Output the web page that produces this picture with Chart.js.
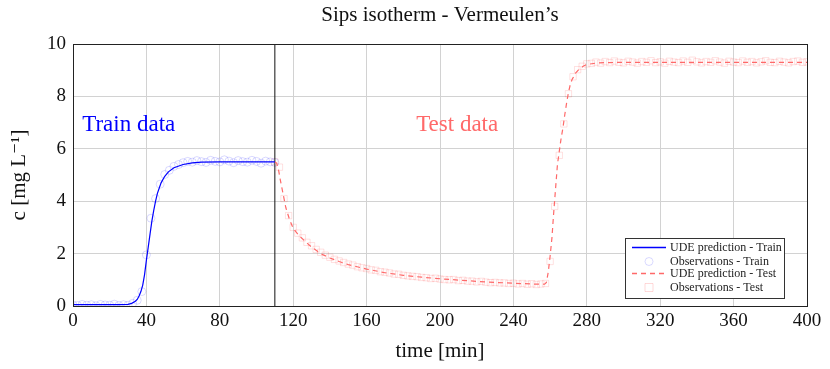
<!DOCTYPE html>
<html>
<head>
<meta charset="utf-8">
<script src="https://cdn.jsdelivr.net/npm/chart.js@4.4.1/dist/chart.umd.min.js"></script>
<style>
  html, body { margin: 0; padding: 0; background: #fff; }
  #wrap { width: 830px; height: 369px; position: relative; }
</style>
</head>
<body>
<div id="wrap"><canvas id="grafico"></canvas></div>
<script>
// Observações de treino (min, mg/L)
const trainTime = [0, 2.5, 5, 7.5, 10, 12.5, 15, 17.5, 20, 22.5, 25, 27.5, 30, 32.5, 35, 37.5, 40, 42.5, 45, 47.5,
  50, 52.5, 55, 57.5, 60, 62.5, 65, 67.5, 70, 72.5, 75, 77.5, 80, 82.5, 85, 87.5, 90, 92.5, 95, 97.5,
  100, 102.5, 105, 107.5, 110];
const trainObs = [0.04, 0.02, 0.06, 0.03, 0.05, 0.01, 0.06, 0.04, 0.03, 0.07, 0.02, 0.05, 0.03, 0.10, 0.22, 0.55, 1.95, 3.35, 4.10, 4.65,
  5.02, 5.18, 5.33, 5.40, 5.47, 5.52, 5.49, 5.55, 5.51, 5.48, 5.56, 5.52, 5.50, 5.58, 5.53, 5.47, 5.55, 5.51, 5.49, 5.56,
  5.52, 5.45, 5.53, 5.50, 5.48];

// Observações de teste
const testTime = [110, 112.5, 115, 117.5, 120, 122.5, 125, 127.5, 130, 132.5,
  135, 137.5, 140, 142.5, 145, 147.5, 150, 152.5, 155, 157.5,
  160, 162.5, 165, 167.5, 170, 172.5, 175, 177.5, 180, 182.5,
  185, 187.5, 190, 192.5, 195, 197.5, 200, 202.5, 205, 207.5,
  210, 212.5, 215, 217.5, 220, 222.5, 225, 227.5, 230, 232.5,
  235, 237.5, 240, 242.5, 245, 247.5, 250, 252.5, 255, 257.5,
  260, 262.5, 265, 267.5, 270, 272.5, 275, 277.5, 280, 282.5,
  285, 287.5, 290, 292.5, 295, 297.5, 300, 302.5, 305, 307.5,
  310, 312.5, 315, 317.5, 320, 322.5, 325, 327.5, 330, 332.5,
  335, 337.5, 340, 342.5, 345, 347.5, 350, 352.5, 355, 357.5,
  360, 362.5, 365, 367.5, 370, 372.5, 375, 377.5, 380, 382.5,
  385, 387.5, 390, 392.5, 395, 397.5, 400];
const testObs = [5.50, 5.30, 4.10, 3.45, 3.00, 2.78, 2.60, 2.43, 2.30, 2.16,
  2.05, 1.94, 1.86, 1.78, 1.72, 1.66, 1.60, 1.56, 1.50, 1.46,
  1.43, 1.38, 1.36, 1.31, 1.29, 1.26, 1.22, 1.21, 1.17, 1.15,
  1.13, 1.12, 1.09, 1.08, 1.05, 1.06, 1.03, 1.01, 1.00, 1.01,
  0.97, 0.98, 0.95, 0.95, 0.92, 0.94, 0.91, 0.89, 0.90, 0.88,
  0.88, 0.86, 0.87, 0.84, 0.86, 0.83, 0.85, 0.82, 0.84, 0.86,
  1.70, 3.80, 5.75, 6.95, 8.10, 8.75, 9.02, 9.15, 9.24, 9.26,
  9.31, 9.27, 9.33, 9.29, 9.35, 9.30, 9.28, 9.34, 9.31, 9.27,
  9.33, 9.30, 9.36, 9.29, 9.32, 9.27, 9.34, 9.31, 9.29, 9.35,
  9.30, 9.38, 9.32, 9.28, 9.33, 9.30, 9.36, 9.31, 9.27, 9.34,
  9.31, 9.29, 9.35, 9.30, 9.33, 9.28, 9.32, 9.36, 9.30, 9.29,
  9.34, 9.31, 9.28, 9.33, 9.35, 9.30, 9.32];

// Previsão UDE - treino
const predTrainTime = [0, 5, 10, 15, 20, 25, 30, 32, 34, 35, 36, 37, 38, 39, 40, 41, 42, 43, 44, 45,
  46, 48, 50, 52, 55, 60, 65, 70, 80, 90, 100, 110];
const predTrain = [0.05, 0.05, 0.05, 0.05, 0.05, 0.05, 0.06, 0.10, 0.18, 0.25, 0.38, 0.55, 0.80, 1.20, 1.75, 2.25, 2.75, 3.25, 3.65, 4.00,
  4.30, 4.70, 4.95, 5.12, 5.28, 5.40, 5.46, 5.49, 5.50, 5.50, 5.50, 5.50];

// Previsão UDE - teste
const predTestTime = [110, 111, 112, 113, 114, 115, 116, 118, 120, 123, 126, 130, 135, 140, 145, 150, 160, 170, 180, 190,
  200, 210, 220, 230, 240, 250, 257, 258, 259, 260, 261, 262, 263, 264, 265, 266, 267, 268, 269, 270,
  271, 272, 274, 276, 278, 280, 285, 290, 300, 320, 340, 360, 380, 400];
const predTest = [5.50, 5.45, 5.20, 4.80, 4.45, 4.10, 3.75, 3.30, 2.96, 2.70, 2.50, 2.25, 2.00, 1.83, 1.70, 1.58, 1.41, 1.27, 1.17, 1.10,
  1.04, 0.99, 0.94, 0.90, 0.87, 0.84, 0.83, 0.90, 1.30, 1.90, 2.60, 3.60, 4.50, 5.40, 5.90, 6.40, 6.80, 7.30, 7.75, 8.15,
  8.45, 8.65, 8.90, 9.05, 9.15, 9.22, 9.27, 9.29, 9.30, 9.30, 9.30, 9.30, 9.30, 9.30];

// Separação treino / teste
const splitTime = 110;

const xTicks = [0, 40, 80, 120, 160, 200, 240, 280, 320, 360, 400];
const yTicks = [0, 2, 4, 6, 8, 10];

const SERIF = "'Liberation Serif', 'DejaVu Serif', serif";
const AZUL = "rgb(0,0,255)";
const AZUL_CLARO = "rgba(0,0,255,0.15)";
const VERMELHO = "rgb(255,105,105)";
const VERMELHO_CLARO = "rgba(255,0,0,0.12)";

function pares(xs, ys) {
  return xs.map((x, i) => ({ x: x, y: ys[i] }));
}

// Título, moldura, textos e legenda desenhados por cima
const extras = {
  id: "extras",
  afterDraw(chart) {
    const ctx = chart.ctx;
    const a = chart.chartArea;
    const sx = chart.scales.x, sy = chart.scales.y;
    ctx.save();

    // moldura
    ctx.strokeStyle = "#222";
    ctx.lineWidth = 1;
    ctx.strokeRect(Math.round(a.left) + 0.5, Math.round(a.top) + 0.5, Math.round(a.right - a.left), Math.round(a.bottom - a.top));

    // título
    ctx.fillStyle = "#111";
    ctx.font = "21px " + SERIF;
    ctx.textAlign = "center";
    ctx.textBaseline = "middle";
    ctx.fillText("Sips isotherm - Vermeulen\u2019s", (a.left + a.right) / 2, 15);

    // rótulos
    ctx.font = "23px " + SERIF;
    ctx.textAlign = "left";
    ctx.fillStyle = AZUL;
    ctx.fillText("Train data", sx.getPixelForValue(5), sy.getPixelForValue(6.9));
    ctx.fillStyle = VERMELHO;
    ctx.fillText("Test data", sx.getPixelForValue(187), sy.getPixelForValue(6.9));

    // legenda
    const lx = 625, ly = 238, lw = 159, lh = 60;
    ctx.fillStyle = "#fff";
    ctx.fillRect(lx, ly, lw, lh);
    ctx.strokeStyle = "#333";
    ctx.strokeRect(lx + 0.5, ly + 0.5, lw, lh);
    const linhas = [
      { txt: "UDE prediction - Train", y: 247.5, tipo: "linha", cor: AZUL },
      { txt: "Observations - Train", y: 261.5, tipo: "circulo", cor: AZUL_CLARO },
      { txt: "UDE prediction - Test", y: 273.5, tipo: "tracejado", cor: VERMELHO },
      { txt: "Observations - Test", y: 287.5, tipo: "quadrado", cor: "rgba(255,0,0,0.15)" }
    ];
    ctx.font = "12px " + SERIF;
    ctx.textBaseline = "middle";
    linhas.forEach(l => {
      ctx.strokeStyle = l.cor;
      ctx.lineWidth = (l.tipo === "linha" || l.tipo === "tracejado") ? 1.4 : 1;
      ctx.beginPath();
      if (l.tipo === "linha" || l.tipo === "tracejado") {
        ctx.setLineDash(l.tipo === "tracejado" ? [5, 4] : []);
        ctx.moveTo(632, l.y);
        ctx.lineTo(666, l.y);
      } else if (l.tipo === "circulo") {
        ctx.setLineDash([]);
        ctx.arc(649, l.y, 4, 0, Math.PI * 2);
      } else {
        ctx.setLineDash([]);
        ctx.rect(645, l.y - 4, 8, 8);
      }
      ctx.stroke();
      ctx.setLineDash([]);
      ctx.fillStyle = "#222";
      ctx.fillText(l.txt, 670, l.y);
    });
    ctx.restore();
  }
};

const ctx = document.getElementById("grafico").getContext("2d");
const chart = new Chart(ctx, {
  type: "scatter",
  data: {
    datasets: [
      {
        label: "UDE prediction - Train",
        data: pares(predTrainTime, predTrain),
        showLine: true,
        borderColor: AZUL,
        borderWidth: 1.2,
        pointRadius: 0,
        tension: 0,
        order: 1
      },
      {
        label: "Observations - Train",
        data: pares(trainTime, trainObs),
        showLine: false,
        pointStyle: "circle",
        pointRadius: 4,
        pointBorderWidth: 1,
        pointBorderColor: AZUL_CLARO,
        pointBackgroundColor: "rgba(0,0,0,0)",
        order: 4
      },
      {
        label: "UDE prediction - Test",
        data: pares(predTestTime, predTest),
        showLine: true,
        borderColor: VERMELHO,
        borderWidth: 1.2,
        borderDash: [5, 4],
        pointRadius: 0,
        tension: 0,
        order: 2
      },
      {
        label: "Observations - Test",
        data: pares(testTime, testObs),
        showLine: false,
        pointStyle: "rect",
        pointRadius: 4.5,
        pointBorderWidth: 1,
        pointBorderColor: VERMELHO_CLARO,
        pointBackgroundColor: "rgba(0,0,0,0)",
        order: 5
      },
      {
        label: "split",
        data: [{ x: splitTime, y: yTicks[0] }, { x: splitTime, y: yTicks[yTicks.length - 1] }],
        showLine: true,
        borderColor: "#111",
        borderWidth: 1,
        pointRadius: 0,
        order: 3
      }
    ]
  },
  options: {
    responsive: true,
    maintainAspectRatio: false,
    animation: false,
    layout: { padding: { left: 0, right: 23, top: 44, bottom: 0 } },
    plugins: {
      legend: { display: false },
      tooltip: { enabled: false },
      title: { display: false }
    },
    scales: {
      x: {
        type: "linear",
        min: xTicks[0],
        max: xTicks[xTicks.length - 1],
        afterFit: s => { s.height = 63; },
        afterBuildTicks: s => { s.ticks = xTicks.map(v => ({ value: v })); },
        grid: { color: "#d2d2d2", lineWidth: 1, drawTicks: false },
        border: { color: "#222" },
        ticks: { color: "#111", padding: 4, font: { family: SERIF, size: 19 }, maxRotation: 0 },
        title: { display: true, text: "time [min]", color: "#111", font: { family: SERIF, size: 21 }, padding: { top: 0, bottom: 5 } }
      },
      y: {
        type: "linear",
        min: yTicks[0],
        max: yTicks[yTicks.length - 1],
        afterFit: s => { s.width = 73; },
        afterBuildTicks: s => { s.ticks = yTicks.map(v => ({ value: v })); },
        grid: { color: "#d2d2d2", lineWidth: 1, drawTicks: false },
        border: { color: "#222" },
        ticks: { color: "#111", padding: 7, font: { family: SERIF, size: 19 } },
        title: { display: true, text: "c [mg L\u207B\u00B9]", color: "#111", font: { family: SERIF, size: 21 }, padding: { top: 7, bottom: 0 } }
      }
    }
  },
  plugins: [extras]
});
</script>
</body>
</html>
